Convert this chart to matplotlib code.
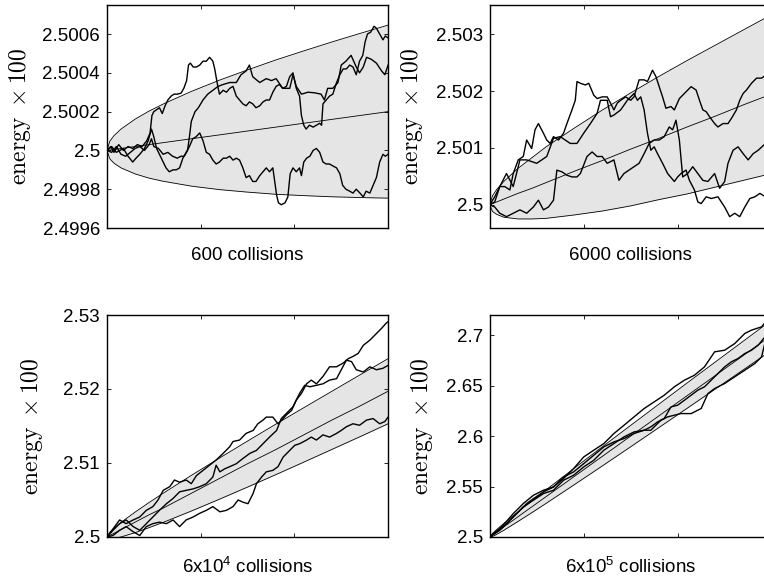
import numpy as np
import matplotlib
matplotlib.use("Agg")
import matplotlib.pyplot as plt

plt.rcParams['font.family'] = ['Liberation Sans', 'DejaVu Sans']
plt.rcParams['mathtext.fontset'] = 'cm'

BASE = 2.5

# ---- 600 collisions (energy above 2.5, units of 1e-4) ----
tl_scale = 1e-4
tl_band_t = [0, 6, 15, 30, 60, 90, 120, 180, 240, 300, 360, 420, 480, 540, 600]
tl_mean = [0, .02, .05, .1, .2, .3, .4, .6, .8, 1.0, 1.2, 1.4, 1.6, 1.8, 2.0]
tl_upper = [0, .47, .76, 1.10, 1.61, 2.03, 2.39, 3.04, 3.62, 4.15, 4.66, 5.13, 5.59, 6.03, 6.46]
tl_lower = [0, -.43, -.66, -.90, -1.21, -1.43, -1.59, -1.84, -2.02, -2.15, -2.26, -2.33, -2.39, -2.43, -2.46]

tl_walk1_t = [0, 10, 20, 35, 45, 55, 62, 70, 80, 88, 95, 100, 106, 112, 120, 126, 133, 141, 148, 155,
              162, 169, 176, 183, 190, 198, 205, 212, 219, 226, 233, 240, 248, 255, 262, 269, 276, 283,
              290, 297, 304, 311, 318, 326, 333, 340, 347, 354, 358, 362, 366, 372, 380, 386, 391, 397,
              404, 411, 415, 420, 426, 433, 440, 447, 454, 461, 468, 475, 482, 490, 497, 503, 510, 518,
              525, 532, 540, 547, 553, 561, 568, 575, 582, 589, 594, 600]
tl_walk1 = [0, 0.2, -0.1, 0.1, -0.3, -0.6, -0.4, -0.2, 0.1, 0.5, 1.1, 0.7, 0.1, -0.2, -0.6, -0.9, -1.1,
            -1.0, -1.0, -0.9, -0.4, -0.1, 0.2, 0.6, 0.7, 0.9, 0.5, -0.1, -0.2, -0.5, -0.7, -0.6, -0.4,
            -0.4, -0.3, -0.5, -0.4, -0.5, -0.9, -1.4, -1.3, -1.6, -1.6, -1.3, -1.1, -0.9, -1.1, -0.9,
            -1.6, -2.3, -2.7, -2.8, -2.7, -2.4, -1.2, -0.9, -1.1, -0.9, -1.3, -0.6, -0.4, -0.3, 0.0, 0.1,
            -0.1, -0.6, -0.7, -0.7, -0.8, -0.9, -1.2, -1.8, -2.0, -2.1, -2.2, -2.0, -2.2, -2.4, -2.1,
            -2.2, -1.8, -1.4, -0.6, -0.2, -0.3, -0.2]

tl_walk2_t = [0, 10, 20, 30, 40, 50, 60, 70, 80, 90, 95, 100, 110, 120, 130, 140, 150, 158, 165, 172,
              176, 180, 188, 195, 205, 215, 226, 237, 248, 262, 276, 286, 297, 304, 311, 326, 340, 351,
              361, 375, 390, 397, 404, 415, 429, 443, 457, 464, 471, 482, 493, 500, 510, 521, 532, 539,
              547, 554, 564, 575, 586, 593, 600]
tl_walk2 = [0, -0.1, 0.2, -0.2, -0.3, -0.1, 0.1, 0.2, 0.0, 0.3, 0.6, 0.2, 0.1, -0.2, -0.1, -0.3, -0.4,
            -0.3, -0.3, 0.0, 0.7, 1.5, 2.0, 2.2, 2.6, 2.9, 3.1, 3.3, 3.4, 3.5, 3.5, 3.9, 4.1, 4.4, 3.8,
            3.5, 3.7, 3.6, 3.7, 3.2, 3.2, 3.9, 3.3, 2.9, 3.0, 2.97, 2.9, 2.6, 3.2, 3.2, 3.5, 4.4, 4.6,
            4.9, 4.3, 4.0, 4.3, 4.8, 4.7, 4.5, 4.1, 3.9, 4.4]

tl_walk3_t = [0, 8, 15, 25, 35, 45, 55, 65, 75, 85, 92, 96, 100, 106, 112, 118, 124, 130, 137, 143,
              150, 158, 164, 170, 174, 178, 184, 191, 198, 205, 212, 219, 226, 230, 235, 240, 248, 255,
              262, 269, 276, 283, 290, 297, 304, 311, 318, 326, 333, 340, 347, 354, 361, 368, 375, 383,
              390, 397, 404, 411, 415, 420, 425, 432, 440, 447, 454, 458, 461, 468, 475, 482, 490, 497,
              504, 511, 518, 525, 532, 539, 546, 551, 556, 563, 570, 575, 582, 589, 594, 600]
tl_walk3 = [0, 0.2, -0.1, 0.3, 0.0, 0.2, 0.1, 0.3, 0.2, 0.5, 0.9, 1.8, 2.0, 2.1, 2.2, 1.9, 2.3, 2.6,
            2.8, 2.9, 2.9, 2.95, 3.2, 3.6, 4.4, 4.5, 4.3, 4.3, 4.4, 4.6, 4.6, 4.8, 4.6, 4.2, 3.5, 2.9,
            3.1, 3.0, 3.2, 3.3, 2.8, 2.6, 2.4, 2.3, 2.5, 2.4, 2.2, 2.3, 2.5, 2.6, 2.6, 3.0, 3.3, 3.4,
            3.2, 3.3, 3.8, 4.0, 3.2, 2.8, 1.8, 1.3, 1.1, 1.3, 1.2, 1.3, 1.4, 1.3, 2.4, 2.6, 2.8, 2.9,
            3.5, 3.9, 4.2, 4.2, 4.4, 4.3, 3.9, 4.6, 4.9, 5.6, 6.0, 6.1, 6.4, 6.3, 6.0, 5.7, 5.9, 5.8]

# ---- 6000 collisions (units of 1e-3) ----
tr_scale = 1e-3
tr_band_t = [0, 60, 150, 300, 600, 900, 1200, 1800, 2400, 3000, 3600, 4200, 4800, 5400, 6000]
tr_mean = [0, .02, .05, .10, .20, .29, .39, .59, .78, .98, 1.17, 1.37, 1.56, 1.76, 1.95]
tr_upper = [0, .16, .27, .41, .64, .83, 1.02, 1.35, 1.67, 1.97, 2.26, 2.54, 2.81, 3.08, 3.35]
tr_lower = [0, -.12, -.17, -.22, -.25, -.25, -.24, -.18, -.11, -.02, .09, .19, .31, .43, .55]

tr_walk1_t = [0, 107, 214, 321, 429, 500, 607, 714, 786, 893, 964, 1036, 1143, 1214, 1286, 1357, 1464,
              1571, 1643, 1750, 1821, 1857, 1929, 2036, 2107, 2214, 2286, 2393, 2500, 2571, 2643, 2714,
              2786, 2893, 3000, 3071, 3179, 3286, 3357, 3464, 3536, 3607, 3679, 3750, 3857, 3929, 4036,
              4143, 4214, 4286, 4393, 4464, 4536, 4607, 4679, 4786, 4857, 4964, 5071, 5143, 5250, 5321,
              5393, 5464, 5571, 5679, 5786, 5871, 6000]
tr_walk1 = [0, 0.14, 0.32, 0.32, 0.26, 0.55, 0.79, 0.85, 1.14, 0.99, 1.32, 1.43, 1.26, 1.14, 1.08,
            1.20, 1.14, 1.26, 1.43, 1.67, 1.84, 2.17, 2.14, 2.11, 2.14, 1.93, 1.87, 1.90, 1.90, 1.79,
            1.67, 1.79, 1.84, 1.90, 1.84, 1.90, 2.20, 2.20, 2.17, 2.37, 2.26, 2.08, 1.90, 1.70, 1.73,
            1.67, 1.87, 1.96, 2.02, 2.08, 2.02, 1.84, 1.67, 1.64, 1.55, 1.43, 1.37, 1.43, 1.43, 1.52,
            1.67, 1.84, 1.96, 2.02, 2.14, 2.23, 2.23, 2.28, 2.30]

tr_walk2_t = [0, 107, 214, 357, 500, 643, 786, 1000, 1214, 1357, 1500, 1714, 1857, 2000, 2143, 2286,
              2357, 2500, 2571, 2643, 2786, 2929, 3071, 3143, 3214, 3286, 3357, 3429, 3500, 3571, 3679,
              3786, 3929, 4000, 4071, 4179, 4250, 4357, 4429, 4500, 4607, 4714, 4857, 5000, 5107, 5214,
              5321, 5429, 5536, 5643, 5750, 5871, 6000]
tr_walk2 = [0, 0.05, 0.32, 0.55, 0.32, 0.79, 0.79, 0.73, 0.85, 1.17, 1.20, 1.08, 1.08, 1.26, 1.43,
            1.61, 1.84, 1.84, 1.55, 1.58, 1.67, 1.84, 1.96, 1.84, 1.90, 1.67, 1.26, 0.96, 1.02, 0.90,
            0.73, 0.55, 0.41, 0.49, 0.55, 0.61, 0.43, 0.26, 0.05, 0.02, 0.14, 0.11, 0.14, -0.04, -0.21,
            -0.15, -0.21, -0.04, 0.11, 0.14, 0.20, 0.14, 0.16]

tr_walk3_t = [0, 107, 214, 357, 500, 643, 786, 929, 1036, 1143, 1250, 1357, 1429, 1536, 1643, 1750,
              1857, 1929, 2071, 2179, 2286, 2393, 2500, 2643, 2750, 2857, 2964, 3071, 3179, 3286, 3393,
              3500, 3607, 3714, 3821, 3893, 3964, 4036, 4107, 4214, 4321, 4429, 4536, 4643, 4786, 4893,
              5000, 5071, 5179, 5286, 5393, 5500, 5607, 5714, 5871, 6000]
tr_walk3 = [0, -0.04, -0.15, -0.21, -0.15, -0.09, -0.15, -0.04, 0.08, -0.09, -0.04, 0.08, 0.61, 0.58,
            0.52, 0.49, 0.49, 0.55, 0.85, 0.93, 0.85, 0.85, 0.73, 0.79, 0.43, 0.55, 0.61, 0.67, 0.73,
            0.90, 1.08, 1.14, 1.14, 1.20, 1.37, 1.32, 1.49, 1.14, 0.49, 0.55, 0.67, 0.55, 0.43, 0.41,
            0.55, 0.29, 0.41, 0.73, 0.96, 1.02, 0.90, 0.79, 0.90, 0.96, 1.08, 1.10]

# ---- 6x10^4 collisions (units of 1e-2) ----
bl_scale = 1e-2
bl_band_t = [0, 600, 1500, 3000, 6000, 9000, 12000, 18000, 24000, 30000, 36000, 42000, 48000, 54000, 60000]
bl_mean = [0, .02, .05, .10, .20, .30, .39, .59, .79, .99, 1.18, 1.38, 1.58, 1.77, 1.97]
bl_upper = [0, .064, .119, .197, .336, .466, .591, .832, 1.066, 1.296, 1.523, 1.747, 1.969, 2.191, 2.41]
bl_lower = [0, -.024, -.021, 0, .058, .126, .197, .35, .51, .674, .841, 1.011, 1.183, 1.355, 1.53]

bl_walk1_t = [0, 1300, 2700, 4100, 5600, 7000, 8400, 9800, 10900, 12000, 13400, 14400, 15500, 16900,
              18000, 19100, 20500, 21900, 23300, 24800, 26200, 26900, 28300, 29700, 31200, 32200, 33300,
              34000, 35400, 36500, 37600, 38300, 39400, 40400, 41500, 42600, 43600, 44700, 46100, 47500,
              49000, 50400, 51500, 52500, 53600, 54700, 56100, 57200, 58600, 59600, 60000]
bl_walk1 = [0, 0.11, 0.23, 0.18, 0.23, 0.27, 0.36, 0.41, 0.50, 0.63, 0.68, 0.77, 0.74, 0.77, 0.72,
            0.83, 0.90, 0.97, 1.04, 1.13, 1.22, 1.29, 1.31, 1.40, 1.44, 1.53, 1.58, 1.62, 1.62, 1.53,
            1.60, 1.65, 1.71, 1.85, 1.94, 2.07, 2.12, 2.07, 2.17, 2.30, 2.30, 2.35, 2.41, 2.44, 2.48,
            2.59, 2.66, 2.73, 2.82, 2.89, 2.91]

bl_walk2_t = [0, 1300, 2700, 4100, 5600, 7000, 8400, 9800, 11200, 12700, 14100, 15500, 16900, 18400,
              19800, 21200, 22600, 23300, 24100, 25100, 26200, 27600, 29000, 30500, 31900, 33300, 34700,
              36200, 37200, 38300, 39700, 41100, 42200, 43300, 44700, 46100, 47500, 49000, 50000, 51100,
              52200, 53200, 54700, 56100, 57500, 58900, 60000]
bl_walk2 = [0, 0.09, 0.18, 0.23, 0.14, 0.09, 0.18, 0.27, 0.36, 0.45, 0.52, 0.61, 0.63, 0.65, 0.68,
            0.72, 0.81, 0.97, 0.88, 0.92, 0.95, 0.99, 1.06, 1.13, 1.17, 1.26, 1.35, 1.44, 1.60, 1.67,
            1.76, 1.94, 2.05, 2.03, 2.05, 2.07, 2.12, 2.14, 2.26, 2.39, 2.37, 2.26, 2.23, 2.30, 2.26,
            2.28, 2.32]

bl_walk3_t = [0, 1300, 2700, 4100, 5600, 7000, 8400, 9800, 11200, 12700, 14100, 15500, 16900, 18400,
              19800, 21200, 22600, 24100, 25500, 26900, 28000, 29000, 30100, 31200, 31900, 33000, 34000,
              35400, 36500, 37600, 39000, 40100, 41100, 42600, 43600, 44700, 46100, 47500, 49000, 50000,
              51100, 52500, 53900, 55400, 56800, 58200, 59300, 60000]
bl_walk3 = [0, 0.02, 0.09, 0.14, 0.07, 0.02, 0.14, 0.18, 0.20, 0.18, 0.23, 0.14, 0.23, 0.27, 0.32,
            0.36, 0.41, 0.34, 0.36, 0.41, 0.50, 0.47, 0.45, 0.59, 0.72, 0.81, 0.88, 0.90, 0.95, 1.08,
            1.17, 1.24, 1.26, 1.31, 1.35, 1.31, 1.38, 1.35, 1.40, 1.44, 1.49, 1.53, 1.51, 1.58, 1.60,
            1.53, 1.56, 1.62]

# ---- 6x10^5 collisions (units of 1e-2) ----
br_scale = 1e-2
br_band_t = [0, 6000, 15000, 30000, 60000, 90000, 120000, 180000, 240000, 300000, 360000, 420000,
             480000, 540000, 600000]
br_mean = [0, .2, .5, 1, 2, 3, 4, 6, 8, 10, 12, 14, 16, 18, 20]
br_upper = [0, .35, .74, 1.34, 2.47, 3.58, 4.67, 6.82, 8.95, 11.06, 13.16, 15.26, 17.34, 19.42, 21.5]
br_lower = [0, .05, .26, .66, 1.53, 2.42, 3.33, 5.18, 7.05, 8.94, 10.84, 12.75, 14.66, 16.58, 18.5]

br_walk1_t = [0, 21400, 42900, 64300, 78600, 92900, 114300, 135700, 157100, 178600, 200000, 221400,
              242900, 264300, 285700, 307100, 328600, 350000, 371400, 392900, 414300, 435700, 457100,
              478600, 500000, 521400, 542900, 557100, 578600, 587100, 600000]
br_walk1 = [0, 0.66, 1.65, 2.64, 3.31, 3.80, 4.46, 4.96, 5.79, 6.78, 7.93, 8.60, 9.26, 10.25, 11.07,
            11.90, 12.73, 13.39, 14.05, 14.88, 15.54, 16.03, 16.86, 18.35, 18.51, 19.17, 20.17, 20.50,
            20.83, 21.32, 21.49]

br_walk2_t = [0, 28600, 50000, 71400, 92900, 114300, 135700, 157100, 178600, 200000, 221400, 242900,
              264300, 285700, 307100, 328600, 342900, 357100, 371400, 385700, 400000, 414300, 428600,
              442900, 457100, 471400, 485700, 500000, 514300, 528600, 542900, 557100, 571400, 587100,
              600000]
br_walk2 = [0, 0.99, 1.98, 2.98, 3.64, 4.30, 4.63, 5.62, 6.12, 6.94, 7.60, 8.60, 9.26, 9.92, 10.41,
            10.58, 10.91, 11.40, 11.74, 12.89, 13.06, 13.55, 14.05, 14.55, 14.88, 15.54, 16.20, 16.86,
            17.36, 17.69, 18.18, 18.51, 19.01, 19.90, 20.30]

br_walk3_t = [0, 28600, 50000, 71400, 92900, 114300, 135700, 157100, 178600, 200000, 221400, 242900,
              264300, 285700, 307100, 328600, 342900, 350000, 364300, 378600, 392900, 407100, 428600,
              450000, 464300, 478600, 500000, 521400, 542900, 564300, 578600, 587100, 600000]
br_walk3 = [0, 1.16, 2.31, 3.31, 4.13, 4.63, 4.96, 5.95, 6.45, 7.27, 8.10, 8.93, 9.42, 9.75, 10.25,
            10.58, 10.58, 10.91, 11.57, 11.90, 12.07, 12.23, 12.23, 12.73, 14.21, 14.71, 15.21, 15.87,
            16.53, 17.19, 17.85, 19.5, 19.9]

panels = [
    dict(pos=[0.140, 0.6055, 0.368, 0.386], scale=tl_scale, band_t=tl_band_t, mean=tl_mean,
         upper=tl_upper, lower=tl_lower,
         walks=[(tl_walk1_t, tl_walk1), (tl_walk2_t, tl_walk2), (tl_walk3_t, tl_walk3)],
         xmax=600, ylim=(2.4996, 2.50075),
         yticks=[2.4996, 2.4998, 2.5, 2.5002, 2.5004, 2.5006],
         ylabels=['2.4996', '2.4998', '2.5', '2.5002', '2.5004', '2.5006'],
         xlabel='600 collisions', ylx=-0.263),
    dict(pos=[0.641, 0.6055, 0.369, 0.386], scale=tr_scale, band_t=tr_band_t, mean=tr_mean,
         upper=tr_upper, lower=tr_lower,
         walks=[(tr_walk1_t, tr_walk1), (tr_walk2_t, tr_walk2), (tr_walk3_t, tr_walk3)],
         xmax=6000, ylim=(2.49959, 2.50352),
         yticks=[2.5, 2.501, 2.502, 2.503],
         ylabels=['2.5', '2.501', '2.502', '2.503'],
         xlabel='6000 collisions', ylx=-0.228),
    dict(pos=[0.140, 0.071, 0.368, 0.384], scale=bl_scale, band_t=bl_band_t, mean=bl_mean,
         upper=bl_upper, lower=bl_lower,
         walks=[(bl_walk1_t, bl_walk1), (bl_walk2_t, bl_walk2), (bl_walk3_t, bl_walk3)],
         xmax=60000, ylim=(2.5, 2.53),
         yticks=[2.5, 2.51, 2.52, 2.53],
         ylabels=['2.5', '2.51', '2.52', '2.53'],
         xlabel='6x10$\\mathregular{^4}$ collisions', ylx=-0.221),
    dict(pos=[0.641, 0.071, 0.369, 0.384], scale=br_scale, band_t=br_band_t, mean=br_mean,
         upper=br_upper, lower=br_lower,
         walks=[(br_walk1_t, br_walk1), (br_walk2_t, br_walk2), (br_walk3_t, br_walk3)],
         xmax=600000, ylim=(2.5, 2.72),
         yticks=[2.5, 2.55, 2.6, 2.65, 2.7],
         ylabels=['2.5', '2.55', '2.6', '2.65', '2.7'],
         xlabel='6x10$\\mathregular{^5}$ collisions', ylx=-0.195),
]

fig = plt.figure(figsize=(7.64, 5.78), dpi=100)

for p in panels:
    ax = fig.add_axes(p['pos'])
    s = p['scale']
    bt = np.array(p['band_t'])
    up = BASE + np.array(p['upper']) * s
    lo = BASE + np.array(p['lower']) * s
    mn = BASE + np.array(p['mean']) * s
    ax.fill_between(bt, lo, up, color='#e5e5e5', lw=0)
    ax.plot(bt, up, color='k', lw=0.6)
    ax.plot(bt, lo, color='k', lw=0.6)
    ax.plot(bt, mn, color='k', lw=0.6)
    for wt, wv in p['walks']:
        ax.plot(wt, BASE + np.array(wv) * s, color='k', lw=1.0)

    ax.set_xlim(0, p['xmax'])
    ax.set_ylim(*p['ylim'])
    ax.set_xticks([p['xmax'] / 3, 2 * p['xmax'] / 3])
    ax.set_xticklabels([])
    ax.set_yticks(p['yticks'])
    ax.set_yticklabels(p['ylabels'])
    ax.tick_params(direction='in', top=True, right=True, length=3, width=0.6,
                   labelsize=13.5, pad=5)
    for sp in ax.spines.values():
        sp.set_linewidth(1.0)
    ax.set_xlabel(p['xlabel'], fontsize=13.5, labelpad=9)
    ax.set_ylabel(r'$\mathrm{energy}\ \times 100$', fontsize=17)
    ax.yaxis.set_label_coords(p['ylx'], 0.5)

fig.savefig('out.png', dpi=100)
